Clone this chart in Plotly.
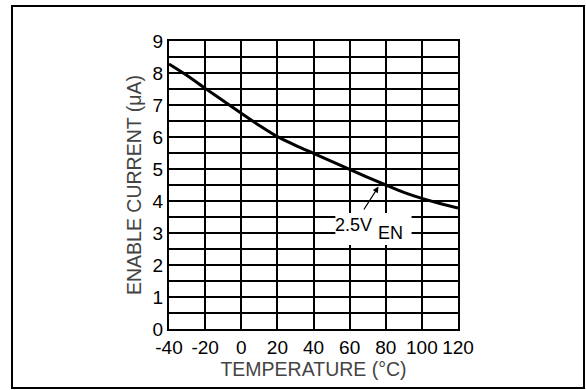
import plotly.graph_objects as go

temperature_c = [-40, -30, -20, -10, 0, 10, 20, 30, 40, 50, 60, 70, 80, 90, 100, 110, 120]
enable_current_ua = [8.28, 7.92, 7.52, 7.13, 6.74, 6.36, 6.01, 5.74, 5.49, 5.24, 4.99, 4.74, 4.50, 4.27, 4.08, 3.92, 3.78]

x_ticks = [-40, -20, 0, 20, 40, 60, 80, 100, 120]
y_ticks = [0, 1, 2, 3, 4, 5, 6, 7, 8, 9]

FONT = "Liberation Sans, Arial, sans-serif"

fig = go.Figure()
fig.add_trace(go.Scatter(
    x=temperature_c, y=enable_current_ua, mode="lines",
    line=dict(color="black", width=3, shape="spline", smoothing=0.8),
    showlegend=False, hoverinfo="skip"))

fig.update_layout(
    width=586, height=390,
    margin=dict(l=169, r=128, t=41, b=61),
    paper_bgcolor="white", plot_bgcolor="white",
    font=dict(family=FONT, size=19, color="black"),
    xaxis=dict(
        range=[-40, 120], tickvals=x_ticks, ticktext=[str(v) for v in x_ticks],
        showgrid=True, gridcolor="black", gridwidth=1.5,
        showline=True, linecolor="black", linewidth=2, mirror=True,
        ticks="", zeroline=False,
        tickfont=dict(size=19, color="black"),
        title=dict(text="TEMPERATURE (°C)", font=dict(size=19.5, color="#444"), standoff=4),
    ),
    yaxis=dict(
        range=[0, 9], tickvals=y_ticks, ticktext=[str(v) for v in y_ticks],
        showgrid=True, gridcolor="black", gridwidth=1.5,
        minor=dict(dtick=0.5, showgrid=True, gridcolor="black", gridwidth=1.5),
        showline=True, linecolor="black", linewidth=2, mirror=True,
        ticks="", zeroline=False,
        tickfont=dict(size=19, color="black"),
        title=dict(text="ENABLE CURRENT (μA)", font=dict(size=19.5, color="#444"), standoff=6),
    ),
)

# white label box
fig.add_shape(type="rect", xref="x", yref="y", x0=52.1, x1=94.3, y0=2.625, y1=3.625,
              fillcolor="white", line=dict(width=0), layer="above")
fig.add_annotation(x=62.1, y=3.25, xref="x", yref="y", text="2.5V", showarrow=False,
                   font=dict(size=18, color="black", family=FONT), xanchor="center", yanchor="middle")
fig.add_annotation(x=82.9, y=2.99, xref="x", yref="y", text="EN", showarrow=False,
                   font=dict(size=18, color="black", family=FONT), xanchor="center", yanchor="middle")
# arrow
fig.add_annotation(x=76, y=4.45, xref="x", yref="y", text="", showarrow=True,
                   ax=-15.6, ay=24.4, arrowhead=2, arrowsize=1, arrowwidth=1.2, arrowcolor="black")

# outer border
fig.add_shape(type="rect", xref="paper", yref="paper",
              x0=(12 - 169) / 289, x1=(584 - 169) / 289,
              y0=(329 - 388) / 288, y1=(329 - 6) / 288,
              line=dict(color="black", width=2), fillcolor="rgba(0,0,0,0)")

fig.write_html("out.html", config={"displayModeBar": False},
               post_script="document.body.style.margin='0';")
